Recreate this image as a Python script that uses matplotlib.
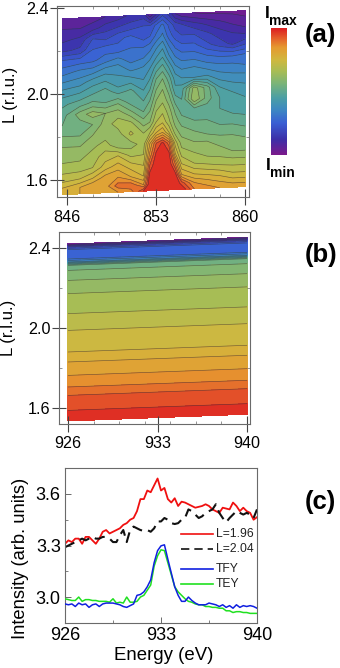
import numpy as np
import matplotlib
matplotlib.use("Agg")
import matplotlib.pyplot as plt
from matplotlib.colors import LinearSegmentedColormap
from matplotlib.ticker import FixedLocator

plt.rcParams['font.family'] = ['Liberation Sans', 'DejaVu Sans']

# ---------- data ----------
energy_a = [845.6, 847, 848, 849, 850, 851, 852, 852.5, 853, 853.5, 854, 854.5, 855, 856, 857, 858, 859, 860]
L_a = [2.37, 2.32, 2.27, 2.22, 2.17, 2.12, 2.07, 2.02, 1.97, 1.92, 1.87, 1.82, 1.77, 1.72, 1.67, 1.62, 1.58, 1.55]
intensity_a = [
    [4, 5, 6, 8, 10, 13, 14, 5, 12, 19, 15, 8, 5, 4, 3, 3, 3, 3],
    [8, 8, 10, 14, 16, 18, 20, 20, 25, 29, 23, 18, 16, 13, 11, 9, 7, 5],
    [11, 13, 20, 19, 23, 25, 22, 24, 29, 33, 26, 22, 20, 20, 17, 14, 12, 11],
    [15, 17, 24, 26, 25, 28, 28, 30, 35, 39, 32, 27, 25, 25, 21, 18, 15, 19],
    [25, 26, 27, 30, 33, 30, 32, 35, 40, 44, 37, 32, 30, 30, 28, 27, 27, 28],
    [30, 33, 34, 38, 39, 35, 37, 40, 46, 50, 44, 37, 35, 36, 34, 33, 33, 32],
    [36, 38, 42, 44, 41, 42, 40, 44, 52, 56, 50, 42, 40, 40, 41, 38, 37, 37],
    [42, 44, 47, 50, 46, 49, 44, 48, 56, 60, 54, 45, 46, 62, 54, 44, 42, 41],
    [47, 50, 53, 52, 55, 50, 48, 52, 60, 63, 58, 50, 48, 64, 54, 48, 46, 44],
    [50, 58, 62, 60, 62, 57, 52, 56, 64, 67, 62, 55, 50, 50, 50, 48, 46, 46],
    [52, 54, 56, 62, 66, 65, 58, 60, 68, 71, 65, 58, 54, 52, 52, 50, 50, 49],
    [56, 56, 60, 62, 62, 69, 64, 68, 76, 80, 72, 62, 58, 56, 54, 54, 54, 53],
    [60, 60, 63, 66, 61, 62, 66, 80, 92, 97, 90, 70, 62, 60, 60, 58, 58, 57],
    [62, 63, 66, 70, 72, 67, 68, 85, 97, 100, 97, 76, 66, 64, 62, 62, 60, 60],
    [66, 66, 68, 74, 78, 74, 72, 92, 100, 100, 100, 88, 72, 68, 67, 66, 66, 66],
    [70, 72, 76, 82, 84, 80, 76, 98, 100, 100, 100, 98, 80, 76, 75, 74, 72, 72],
    [76, 80, 84, 82, 90, 91, 84, 100, 100, 100, 100, 100, 94, 84, 82, 80, 78, 78],
    [80, 80, 82, 84, 84, 86, 96, 100, 100, 100, 100, 100, 100, 88, 86, 84, 84, 84],
]
tilt_a = 0.0026

energy_b = [926, 929.5, 933, 936.5, 940]
L_b = [2.42, 2.405, 2.39, 2.36, 2.345, 2.33, 2.313, 2.288, 2.238, 2.172, 2.072, 1.988, 1.88,
       1.83, 1.763, 1.705, 1.663, 1.588, 1.535]
intensity_b = [
    [2, 2, 2, 2, 2],
    [16, 16, 16, 16, 16],
    [25, 25, 25, 25, 25],
    [27, 27, 27, 27, 27],
    [28, 28, 28, 28, 28],
    [36, 36, 36, 36, 36],
    [52, 52, 52, 52, 52],
    [56, 56, 56, 56, 56],
    [60, 60, 60, 60, 60],
    [64, 64, 64, 64, 64],
    [68, 68, 68, 68, 68],
    [72, 72, 72, 72, 72],
    [76, 76, 76, 76, 76],
    [80, 80, 80, 80, 80],
    [84, 84, 84, 84, 84],
    [88, 88, 88, 88, 88],
    [92, 92, 92, 92, 92],
    [96, 96, 96, 96, 96],
    [100, 100, 100, 100, 100],
]
tilt_b = 0.0024

energy_c = [926 + i * 0.25 for i in range(57)]
L196 = [3.31, 3.33, 3.32, 3.34, 3.34, 3.31, 3.35, 3.35, 3.33, 3.31, 3.34, 3.38, 3.39, 3.37, 3.38, 3.39,
        3.40, 3.42, 3.43, 3.45, 3.46, 3.50, 3.57, 3.57, 3.62, 3.61, 3.65, 3.69, 3.62, 3.635, 3.57, 3.55,
        3.575, 3.53, 3.555, 3.55, 3.54, 3.53, 3.52, 3.525, 3.53, 3.54, 3.53, 3.51, 3.50, 3.49, 3.52, 3.515,
        3.51, 3.55, 3.53, 3.50, 3.52, 3.50, 3.49, 3.45, 3.465]
L204 = [3.29, 3.30, 3.31, 3.32, 3.33, 3.34, 3.33, 3.34, 3.35, 3.34, 3.34, 3.35, 3.35, 3.34, 3.32, 3.32,
        3.36, 3.39, 3.32, 3.39, 3.41, 3.40, 3.39, 3.385, 3.39, 3.38, 3.40, 3.44, 3.44, 3.46, 3.45, 3.43,
        3.425, 3.43, 3.45, 3.46, 3.51, 3.50, 3.48, 3.46, 3.47, 3.49, 3.50, 3.51, 3.54, 3.49, 3.46, 3.435,
        3.46, 3.48, 3.50, 3.49, 3.48, 3.49, 3.48, 3.46, 3.51]
TFY = [2.96, 2.955, 2.96, 2.945, 2.965, 2.955, 2.96, 2.94, 2.955, 2.96, 2.945, 2.96, 2.965, 2.965, 2.965, 2.96,
       2.955, 2.945, 2.94, 2.95, 2.96, 3.01, 3.015, 3.03, 3.06, 3.10, 3.20, 3.27, 3.298, 3.304, 3.22, 3.14,
       3.06, 3.01, 2.975, 2.975, 3.0, 2.98, 2.965, 2.955, 2.955, 2.955, 2.965, 2.96, 2.955, 2.945, 2.955, 2.94,
       2.95, 2.935, 2.955, 2.94, 2.95, 2.945, 2.95, 2.945, 2.935]
TEY = [2.99, 2.985, 2.98, 2.98, 3.0, 2.975, 2.985, 2.985, 2.98, 2.98, 2.975, 2.975, 2.975, 2.97, 2.99, 2.965,
       2.97, 2.965, 3.0, 2.97, 2.97, 2.975, 3.0, 3.01, 3.04, 3.07, 3.18, 3.24, 3.275, 3.27, 3.20, 3.13,
       3.06, 3.03, 3.01, 2.99, 2.975, 2.97, 2.96, 2.955, 2.955, 2.945, 2.945, 2.94, 2.94, 2.935, 2.935, 2.92,
       2.92, 2.91, 2.915, 2.915, 2.91, 2.91, 2.905, 2.905, 2.905]

ticks_a = [846, 853, 860]
ticks_b = [926, 933, 940]
ticks_L = [1.6, 2.0, 2.4]
ticks_I = [3.0, 3.3, 3.6]

# ---------- style ----------
W, H = 340, 668
cmap = LinearSegmentedColormap.from_list("rb", [
    (0.00, "#7a1a8c"), (0.12, "#3c2fa8"), (0.25, "#3a5fd4"), (0.35, "#3d87c4"),
    (0.45, "#4b9fa5"), (0.56, "#79b47a"), (0.66, "#a8bd55"), (0.75, "#d0b83f"),
    (0.85, "#e69a30"), (0.92, "#e5622b"), (1.00, "#dd1f22")])
levels = np.arange(0, 101, 4)
grey = "#6a6a6a"


def make_axes(x0, x1, y0, y1):
    return plt.gcf().add_axes([x0 / W, 1 - y1 / H, (x1 - x0) / W, (y1 - y0) / H])


def style_map(ax, xticks, minor_x, minor_y):
    for s in ax.spines.values():
        s.set_color(grey)
        s.set_linewidth(0.8)
    ax.set_xticks(xticks)
    ax.set_yticks(ticks_L)
    ax.set_yticklabels(["1.6", "2.0", "2.4"])
    ax.xaxis.set_minor_locator(FixedLocator(minor_x))
    ax.yaxis.set_minor_locator(FixedLocator(minor_y))
    ax.tick_params(axis='x', which='major', direction='inout', length=12, width=0.8, color='#444444', pad=3, labelsize=11.6)
    ax.tick_params(axis='y', which='major', direction='inout', length=9.5, width=0.8, color='#444444', pad=1.5, labelsize=11.6)
    ax.tick_params(which='minor', direction='in', length=2, width=0.5, color=grey, top=True, right=True)


fig = plt.figure(figsize=(W / 100, H / 100), dpi=100)

# panel a
axa = make_axes(57, 249, 6, 197)
Ea, La = np.meshgrid(energy_a, L_a)
Ya = La + (Ea - 853) * tilt_a
axa.contourf(Ea, Ya, np.array(intensity_a), levels=levels, cmap=cmap, vmin=0, vmax=100)
axa.contour(Ea, Ya, np.array(intensity_a), levels=levels[1:-1], colors='#333333', linewidths=0.45, alpha=0.65)
axa.set_xlim(845.2, 860.3)
axa.set_ylim(1.52, 2.41)
style_map(axa, ticks_a, np.arange(846, 861, 2), np.arange(1.6, 2.41, 0.2))

# panel b
axb = make_axes(59, 250, 232, 424)
Eb, Lb = np.meshgrid(energy_b, L_b)
Yb = Lb + (Eb - 926) * tilt_b
axb.contourf(Eb, Yb, np.array(intensity_b), levels=levels, cmap=cmap, vmin=0, vmax=100)
axb.contour(Eb, Yb, np.array(intensity_b), levels=levels[1:-1], colors='#333333', linewidths=0.45, alpha=0.65)
axb.set_xlim(925.3, 940.23)
axb.set_ylim(1.52, 2.48)
style_map(axb, ticks_b, np.arange(926, 941, 2), np.arange(1.6, 2.41, 0.2))

# panel c
axc = make_axes(65, 257, 468, 623)
axc.plot(energy_c, L196, color='#f01010', lw=1.3)
axc.plot(energy_c, L204, color='#111111', lw=1.5, ls=(0, (5, 3)))
axc.plot(energy_c, TFY, color='#1020e0', lw=1.1, zorder=4)
axc.plot(energy_c, TEY, color='#20e020', lw=1.1, zorder=3)
axc.set_xlim(926, 940)
axc.set_ylim(2.849, 3.751)
axc.set_xticks(ticks_b)
axc.set_yticks(ticks_I)
axc.set_yticklabels(["3.0", "3.3", "3.6"])
axc.xaxis.set_minor_locator(FixedLocator([929.5, 936.5]))
axc.yaxis.set_minor_locator(FixedLocator([3.15, 3.45]))
axc.tick_params(which='major', direction='in', length=4, width=0.7, color=grey, labelsize=13, pad=3)
axc.tick_params(which='minor', direction='in', length=2.5, width=0.6, color=grey)
for s in axc.spines.values():
    s.set_color(grey)
    s.set_linewidth(0.8)

# legend in panel c, drawn by hand
legend_rows = [("L=1.96", '#f01010', '-', 534.3), ("L=2.04", '#111111', (0, (5, 3)), 549),
               ("TFY", '#1020e0', '-', 569.3), ("TEY", '#20e020', '-', 584.3)]
for name, col, ls, ypx in legend_rows:
    fig.add_artist(plt.Line2D([181 / W, 213 / W], [1 - ypx / H] * 2, color=col, ls=ls, lw=1.2))
    fig.text(216 / W, 1 - ypx / H, name, fontsize=8.7, va='center', ha='left', color='#222222')

# axis titles
fig.text(10 / W, 1 - 95 / H, "L (r.l.u.)", rotation=90, fontsize=12.1, ha='center', va='center')
fig.text(9 / W, 1 - 328 / H, "L (r.l.u.)", rotation=90, fontsize=12.1, ha='center', va='center')
fig.text(21 / W, 1 - 558 / H, "Intensity (arb. units)", rotation=90, fontsize=13.2, ha='center', va='center')
fig.text(164 / W, 1 - 656 / H, "Energy (eV)", fontsize=13.4, ha='center', va='center')

# panel tags
for tag, ypx in [("(a)", 35), ("(b)", 255), ("(c)", 502)]:
    fig.text(305 / W, 1 - ypx / H, tag, fontsize=18.5, fontweight='bold', ha='left', va='center')

# colour bar
axbar = make_axes(271, 287, 28, 155)
axbar.imshow(np.linspace(100, 0, 200)[:, None], aspect='auto', cmap=cmap, vmin=0, vmax=100)
axbar.axis('off')
fig.text(265 / W, 1 - 14 / H, "I", fontsize=12.5, fontweight='bold', ha='left', va='center')
fig.text(269 / W, 1 - 21 / H, "max", fontsize=10, fontweight='bold', ha='left', va='center')
fig.text(266 / W, 1 - 165 / H, "I", fontsize=12.5, fontweight='bold', ha='left', va='center')
fig.text(270 / W, 1 - 173 / H, "min", fontsize=10, fontweight='bold', ha='left', va='center')

fig.savefig("out.png", dpi=100)
